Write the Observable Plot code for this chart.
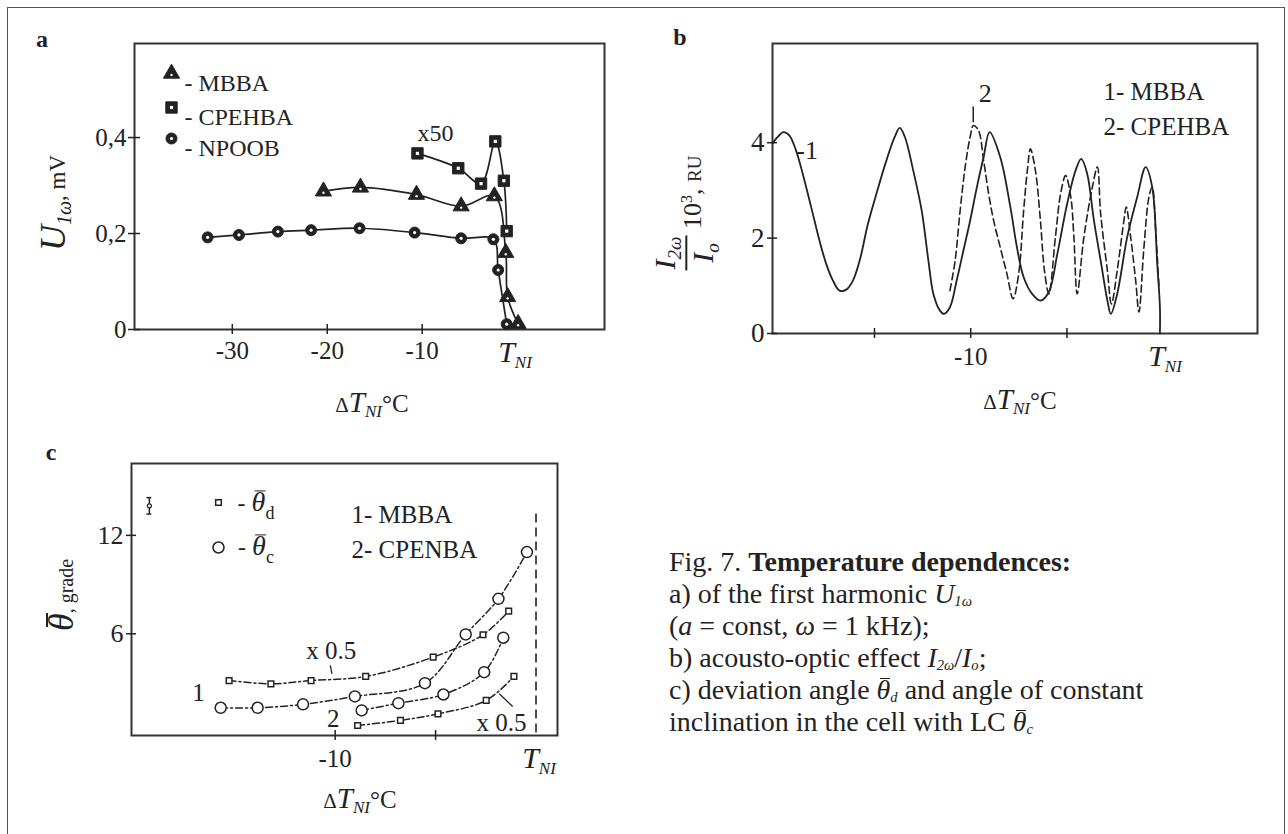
<!DOCTYPE html>
<html><head><meta charset="utf-8">
<script src="https://cdn.jsdelivr.net/npm/d3@7"></script>
<script src="https://cdn.jsdelivr.net/npm/@observablehq/plot@0.6"></script>
<style>
body{margin:0;background:#fff;}
#fig{position:relative;width:1288px;height:834px;background:#fff;font-family:"Liberation Serif","Times New Roman",serif;color:#222;overflow:hidden;}
#fig svg, #fig svg text{font-family:"Liberation Serif","Times New Roman",serif !important;}
.abs{position:absolute;white-space:nowrap;line-height:1;}
.sub{font-size:0.6em;vertical-align:-0.3em;}
.ol{display:inline-block;position:relative;line-height:1;}
.ol::before{content:"";position:absolute;left:22%;right:0;top:0.08em;border-top:0.06em solid currentColor;}
.cap{position:absolute;left:669px;top:546px;font-size:28px;line-height:32px;white-space:nowrap;}
.cap sub{font-size:0.52em;vertical-align:-0.18em;line-height:0;font-style:italic;}
</style></head><body><div id="fig"></div>
<script>
// ---------------- panel a data ----------------
const aNpoobX = [-32.6,-29.3,-25.2,-21.7,-16.6,-10.8,-5.9,-2.5,-2.0,-1.1];
const aNpoobY = [0.192,0.197,0.204,0.207,0.211,0.202,0.190,0.188,0.124,0.011];
const aMbbaX  = [-20.4,-16.5,-10.6,-5.9,-2.4,-1.2,-1.0,0.1];
const aMbbaY  = [0.288,0.296,0.281,0.257,0.278,0.160,0.068,0.012];
const aCpehbaX = [-10.5,-6.2,-3.8,-2.3,-1.4,-1.1];
const aCpehbaY = [0.367,0.336,0.304,0.392,0.310,0.205];
const aXTicks = [-30,-20,-10];
const aXTickLabels = ["-30","-20","-10"];
const aYTicks = [0,0.2,0.4];
const aYTickLabels = ["0","0,2","0,4"];
const aLegend = ["MBBA","CPEHBA","NPOOB"];
const aNotes = [{x:-8.6, y:0.408, text:"x50"}];

// ---------------- panel b data ----------------
const b1X = [-20.29,-20.03,-19.73,-19.42,-19.08,-18.73,-18.29,-17.86,-17.51,-17.16,-16.82,-16.47,-16.12,-15.77,-15.34,-14.9,-14.38,-13.95,-13.69,-13.42,-12.99,-12.55,-12.2,-11.94,-11.6,-11.39,-11.08,-10.73,-10.38,-10.03,-9.68,-9.33,-9.02,-8.47,-7.94,-7.6,-7.25,-6.81,-6.38,-5.94,-5.5,-4.99,-4.55,-4.26,-3.95,-3.6,-3.25,-2.9,-2.72,-2.39,-1.87,-1.35,-0.91,-0.57,-0.31,-0.17,-0.17];
const b1Y = [3.99,4.12,4.22,4.15,3.84,3.35,2.65,1.95,1.46,1.11,0.90,0.92,1.11,1.53,2.3,2.93,3.63,4.12,4.31,4.12,3.42,2.58,1.53,0.83,0.48,0.41,0.55,1.11,1.74,2.37,3.07,3.7,4.22,3.7,2.65,1.81,1.18,0.83,0.69,0.87,1.67,2.72,3.42,3.66,3.35,2.37,1.53,0.69,0.41,0.83,2.02,2.86,3.49,3.07,1.46,0.55,0];
const b2X = [-11.08,-10.81,-10.55,-10.29,-10.03,-9.86,-9.6,-9.33,-9.07,-8.81,-8.47,-8.12,-7.8,-7.51,-7.25,-7.04,-6.9,-6.64,-6.38,-6.17,-5.94,-5.6,-5.33,-5.07,-4.8,-4.64,-4.47,-4.12,-3.68,-3.42,-3.25,-2.9,-2.69,-2.39,-2.04,-1.92,-1.69,-1.43,-1.26,-1.0,-0.74,-0.57,-0.39,-0.22];
const b2Y = [0.90,1.53,2.58,3.49,4.12,4.36,4.26,3.63,2.93,2.37,1.81,1.25,0.73,1.25,2.58,3.49,3.87,3.42,2.37,1.32,0.83,2.02,2.93,3.31,2.86,2.02,0.83,2.02,3.07,3.49,2.51,1.32,0.62,1.32,2.37,2.65,2.02,1.11,0.45,1.81,2.86,3.07,2.16,0.97];
const bXTicks = [-15,-10,-5];
const bXTickLabels = ["","-10",""];
const bYTicks = [0,2,4];
const bYTickLabels = ["0","2","4"];
const bLegend = ["1- MBBA","2- CPEHBA"];
const bNotes = [{x:-18.5, y:3.84, text:"-1"}, {x:-9.25, y:5.03, text:"2"}];
const bLeader = [{x:-9.87, y1:4.42, y2:4.75}];

// ---------------- panel c data ----------------
const c1SqX = [-15.28,-13.2,-11.2,-8.48,-5.12,-2.64,-1.36];
const c1SqY = [3.15,2.95,3.15,3.4,4.58,5.94,7.38];
const c1CiX = [-15.7,-13.86,-11.6,-9.02,-5.53,-3.5,-1.87,-0.45];
const c1CiY = [1.49,1.49,1.7,2.18,2.99,5.96,8.13,10.98];
const c2CiX = [-8.68,-6.85,-4.61,-2.58,-1.63];
const c2CiY = [1.33,1.77,2.3,3.66,5.76];
const c2SqX = [-8.88,-6.75,-4.88,-2.48,-1.1];
const c2SqY = [0.41,0.72,1.12,1.94,3.4];
const cXTicks = [-10,-5];
const cXTickLabels = ["-10",""];
const cYTicks = [6,12];
const cYTickLabels = ["6","12"];
const cLegend = ["1- MBBA","2- CPENBA"];
const cNotes = [{x:-10.2,y:4.98,text:"x 0.5"},{x:-16.8,y:2.41,text:"1"},{x:-10.09,y:0.83,text:"2"},{x:-1.72,y:0.59,text:"x 0.5"}];
const cLeaders = [{x1:-10.24,y1:4.07,x2:-10.16,y2:3.56},{x1:-1.83,y1:2.34,x2:-1.16,y2:1.57}];
const cTni = [{x:0, y1:13.3, y2:-0.2}];
const cErr = [{x:-19.25, y1:13.3, y2:14.3, y:13.8, cap:0.12}];

const rows = (xs, ys) => xs.map((x, i) => ({x, y: ys[i]}));
const ink = "#222";
const serif = "Liberation Serif";
const fig = document.getElementById("fig");
const baseStyle = {fontFamily: "'Liberation Serif', serif", fontSize: "24px", color: ink, background: "transparent", overflow: "visible"};

function place(svg, left, top) {
  svg.style.position = "absolute";
  svg.style.left = left + "px";
  svg.style.top = top + "px";
  fig.appendChild(svg);
}
function label(html, x, y, rotate = 0) {
  const d = document.createElement("div");
  d.className = "abs";
  d.innerHTML = html;
  d.style.left = x + "px";
  d.style.top = y + "px";
  d.style.transform = `translate(-50%,-50%) rotate(${rotate}deg)`;
  fig.appendChild(d);
}

// ---------------- panel a ----------------
const filledMarker = (data, symbol, r, inner, innerR, dyInner = 0) => [
  Plot.dot(data, {x: "x", y: "y", symbol, r, fill: ink, stroke: ink, strokeWidth: 1}),
  Plot.dot(data, {x: "x", y: "y", symbol: inner, r: innerR, fill: "white", dy: dyInner})
];
const legendMarker = (symbol, r, inner, innerR, dx, dy, dyInner = 0) => [
  Plot.dot([0], {frameAnchor: "top-left", dx, dy, symbol, r, fill: ink, stroke: ink, strokeWidth: 1}),
  Plot.dot([0], {frameAnchor: "top-left", dx, dy: dy + dyInner, symbol: inner, r: innerR, fill: "white"})
];
const legendRowsA = [30, 64, 95];
const npoob = rows(aNpoobX, aNpoobY), mbba = rows(aMbbaX, aMbbaY), cpehba = rows(aCpehbaX, aCpehbaY);
const plotA = Plot.plot({
  width: 640, height: 420, marginLeft: 134, marginRight: 36, marginTop: 43, marginBottom: 91,
  x: {domain: [-40.3, 9.2], label: null},
  y: {domain: [0, 0.596], label: null},
  style: baseStyle,
  marks: [
    Plot.frame({stroke: "#333", strokeWidth: 2}),
    Plot.axisX(aXTicks, {tickSize: 10, dy: -5, tickPadding: 7, tickFormat: (d, i) => aXTickLabels[i], fontSize: 25, fontFamily: serif, stroke: ink, strokeWidth: 1.5}),
    Plot.axisY(aYTicks, {tickSize: 12, dx: 6, tickPadding: 2, tickFormat: (d, i) => aYTickLabels[i], fontSize: 25, fontFamily: serif, stroke: ink, strokeWidth: 1.5}),
    Plot.line(npoob, {x: "x", y: "y", curve: "catmull-rom", stroke: ink, strokeWidth: 1.7}),
    Plot.line(mbba, {x: "x", y: "y", curve: "catmull-rom", stroke: ink, strokeWidth: 1.7}),
    Plot.line(cpehba, {x: "x", y: "y", curve: "catmull-rom", stroke: ink, strokeWidth: 1.7}),
    ...filledMarker(npoob, "circle", 5.5, "circle", 1.6),
    ...filledMarker(mbba, "triangle", 6, "circle", 1.2, 1.5),
    ...filledMarker(cpehba, "square", 6.4, "square", 1.8),
    ...legendMarker("triangle", 6, "circle", 1.2, 37, legendRowsA[0], 1.5),
    ...legendMarker("square", 6.4, "square", 1.8, 37, legendRowsA[1]),
    ...legendMarker("circle", 5.5, "circle", 1.6, 37, legendRowsA[2]),
    ...aLegend.map((name, i) => Plot.text([name], {frameAnchor: "top-left", dx: 50, dy: legendRowsA[i], text: d => "- " + d, textAnchor: "start", fontSize: 24, fontFamily: serif})),
    Plot.text(aNotes, {x: "x", y: "y", text: "text", fontSize: 24, fontFamily: serif})
  ]
});
place(plotA, 0, 0);

// ---------------- panel b ----------------
const b1 = rows(b1X, b1Y), b2 = rows(b2X, b2Y);
const plotB = Plot.plot({
  width: 648, height: 420, marginLeft: 132, marginRight: 31, marginTop: 43, marginBottom: 87,
  x: {domain: [-20.3, 4.9], label: null},
  y: {domain: [0, 6.08], label: null},
  style: baseStyle,
  marks: [
    Plot.frame({stroke: "#333", strokeWidth: 2}),
    Plot.axisX(bXTicks, {tickSize: 10, dy: -5, tickPadding: 9, tickFormat: (d, i) => bXTickLabels[i], fontSize: 25, fontFamily: serif, stroke: ink, strokeWidth: 1.5}),
    Plot.axisY(bYTicks, {tickSize: 10, dx: 5, tickPadding: 3, tickFormat: (d, i) => bYTickLabels[i], fontSize: 27, fontFamily: serif, stroke: ink, strokeWidth: 1.5}),
    Plot.line(b2, {x: "x", y: "y", curve: "catmull-rom", stroke: ink, strokeWidth: 1.6, strokeDasharray: "7,4"}),
    Plot.line(b1, {x: "x", y: "y", curve: "catmull-rom", stroke: ink, strokeWidth: 1.8}),
    Plot.ruleX(bLeader, {x: "x", y1: "y1", y2: "y2", stroke: ink, strokeWidth: 1.5}),
    Plot.text(bNotes, {x: "x", y: "y", text: "text", fontSize: 26, fontFamily: serif}),
    Plot.text([bLegend[0]], {frameAnchor: "top-left", dx: 331, dy: 39, textAnchor: "start", fontSize: 25, fontFamily: serif}),
    Plot.text([bLegend[1]], {frameAnchor: "top-left", dx: 331, dy: 74, textAnchor: "start", fontSize: 25, fontFamily: serif})
  ]
});
place(plotB, 640, 0);

// ---------------- panel c ----------------
const c1s = rows(c1SqX, c1SqY), c1c = rows(c1CiX, c1CiY), c2c = rows(c2CiX, c2CiY), c2s = rows(c2SqX, c2SqY);
const dashDot = "7,3,2,3";
const openDot = (data, symbol, r) => Plot.dot(data, {x: "x", y: "y", symbol, r, fill: "white", stroke: ink, strokeWidth: 1.5});
const errCaps = cErr.flatMap(d => [{y: d.y1, x1: d.x - d.cap, x2: d.x + d.cap}, {y: d.y2, x1: d.x - d.cap, x2: d.x + d.cap}]);
const plotC = Plot.plot({
  width: 640, height: 414, marginLeft: 131, marginRight: 83, marginTop: 43, marginBottom: 99,
  x: {domain: [-20.14, 1.07], label: null},
  y: {domain: [-0.2, 16.38], label: null},
  style: baseStyle,
  marks: [
    Plot.frame({stroke: "#333", strokeWidth: 2}),
    Plot.axisX(cXTicks, {tickSize: 10, dy: -5, tickPadding: 9, tickFormat: (d, i) => cXTickLabels[i], fontSize: 25, fontFamily: serif, stroke: ink, strokeWidth: 1.5}),
    Plot.axisY(cYTicks, {tickSize: 10, dx: 5, tickPadding: 3, tickFormat: (d, i) => cYTickLabels[i], fontSize: 26, fontFamily: serif, stroke: ink, strokeWidth: 1.5}),
    Plot.ruleX(cTni, {x: "x", y1: "y1", y2: "y2", stroke: ink, strokeWidth: 1.6, strokeDasharray: "9,5"}),
    Plot.line(c1s, {x: "x", y: "y", curve: "catmull-rom", stroke: ink, strokeWidth: 1.5, strokeDasharray: dashDot}),
    Plot.line(c1c, {x: "x", y: "y", curve: "catmull-rom", stroke: ink, strokeWidth: 1.5, strokeDasharray: dashDot}),
    Plot.line(c2c, {x: "x", y: "y", curve: "catmull-rom", stroke: ink, strokeWidth: 1.5, strokeDasharray: dashDot}),
    Plot.line(c2s, {x: "x", y: "y", curve: "catmull-rom", stroke: ink, strokeWidth: 1.5, strokeDasharray: dashDot}),
    openDot(c1s, "square", 3.2), openDot(c2s, "square", 3.2),
    openDot(c1c, "circle", 5.5), openDot(c2c, "circle", 5.5),
    Plot.link(cLeaders, {x1: "x1", y1: "y1", x2: "x2", y2: "y2", stroke: ink, strokeWidth: 1.3}),
    Plot.text(cNotes, {x: "x", y: "y", text: "text", fontSize: 25, fontFamily: serif}),
    Plot.ruleX(cErr, {x: "x", y1: "y1", y2: "y2", stroke: ink, strokeWidth: 1.5}),
    Plot.ruleY(errCaps, {y: "y", x1: "x1", x2: "x2", stroke: ink, strokeWidth: 1.5}),
    Plot.dot(cErr, {x: "x", y: "y", r: 2, fill: "white", stroke: ink, strokeWidth: 1.2}),
    Plot.dot([0], {frameAnchor: "top-left", dx: 87, dy: 39, symbol: "square", r: 3.2, fill: "white", stroke: ink, strokeWidth: 1.5}),
    Plot.dot([0], {frameAnchor: "top-left", dx: 87, dy: 84, symbol: "circle", r: 5.5, fill: "white", stroke: ink, strokeWidth: 1.5}),
    Plot.text([cLegend[0]], {frameAnchor: "top-left", dx: 220, dy: 42, textAnchor: "start", fontSize: 25, fontFamily: serif}),
    Plot.text([cLegend[1]], {frameAnchor: "top-left", dx: 220, dy: 77, textAnchor: "start", fontSize: 25, fontFamily: serif})
  ]
});
place(plotC, 0, 420);

// ---------------- HTML text: letters, titles, caption ----------------
const tni = `<i style="font-size:30px">T</i><i class="sub" style="font-size:17px">NI</i>`;
const dT = `<span style="font-size:21px">Δ</span><i style="font-size:29px">T</i><i class="sub" style="font-size:17px">NI</i><span style="font-size:25px">°C</span>`;
label(`<b style="font-size:24px">a</b>`, 42, 39);
label(`<b style="font-size:24px">b</b>`, 680, 37);
label(`<b style="font-size:24px">c</b>`, 51, 452);
label(tni, 515, 354);
label(tni, 1165, 358);
label(tni, 539, 760);
label(dT, 372, 404);
label(dT, 1020, 401);
label(dT, 360, 800);
label(`<i style="font-size:36px">U</i><i class="sub" style="font-size:20px">1ω</i><span style="font-size:23px">, mV</span>`, 54, 203, -90);
label(`<span style="display:inline-flex;flex-direction:column;align-items:center;vertical-align:26px;line-height:1;">
  <span style="border-bottom:2px solid #222;padding:0 1px 1px;"><i style="font-size:30px">I</i><i style="font-size:19px;vertical-align:-0.3em">2ω</i></span>
  <span style="padding-top:1px;"><i style="font-size:30px">I</i><i style="font-size:19px;vertical-align:-0.3em">o</i></span></span><span style="font-size:26px"> 10<sup style="font-size:16px">3</sup>, </span><span style="font-size:19px">RU</span>`, 686, 213, -90);
label(`<i class="ol" style="font-size:36px">θ</i><span style="font-size:20px">, grade</span>`, 61, 595, -90);
label(`<span style="font-size:24px">- <i class="ol" style="font-size:28px">θ</i><span style="font-size:18px;vertical-align:-0.4em">d</span></span>`, 256, 505);
label(`<span style="font-size:24px">- <i class="ol" style="font-size:28px">θ</i><span style="font-size:18px;vertical-align:-0.4em">c</span></span>`, 256, 549);

const cap = document.createElement("div");
cap.className = "cap";
cap.innerHTML = `Fig. 7. <b>Temperature dependences:</b><br>
a) of the first harmonic <i>U</i><sub>1ω</sub><br>
(<i>a</i> = const, <i>ω</i> = 1 kHz);<br>
b) acousto-optic effect <i>I</i><sub>2ω</sub>/<i>I</i><sub>o</sub>;<br>
c) deviation angle <i class="ol">θ</i><sub>d</sub> and angle of constant<br>
inclination in the cell with LC <i class="ol">θ</i><sub>c</sub>`;
fig.appendChild(cap);

// outer border
const border = document.createElement("div");
border.style.cssText = "position:absolute;left:7px;top:7px;width:1278px;height:840px;border:1.5px solid #555;box-sizing:border-box;";
fig.appendChild(border);
</script></body></html>
